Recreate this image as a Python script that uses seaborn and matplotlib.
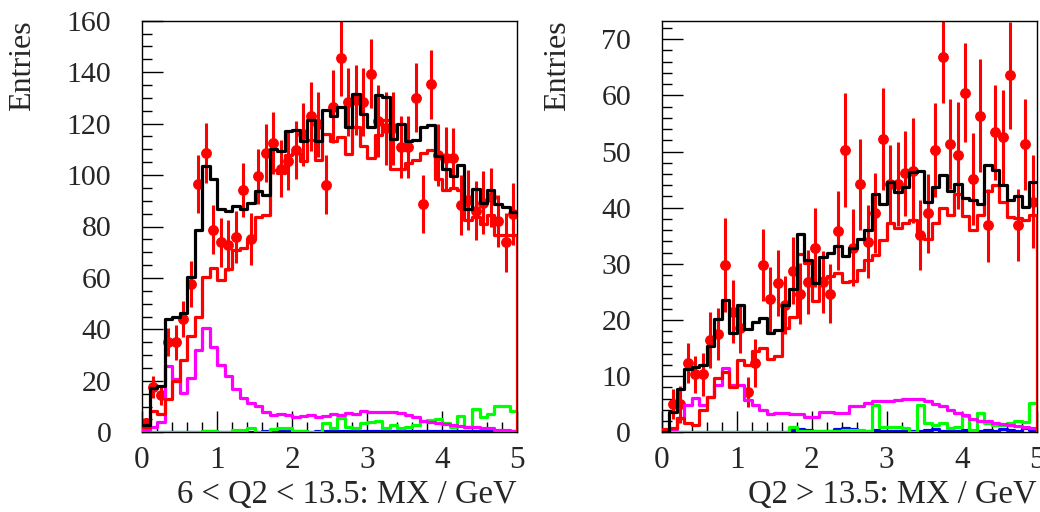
import numpy as np
import pandas as pd
import matplotlib
matplotlib.use("Agg")
import matplotlib.pyplot as plt
from matplotlib.ticker import MultipleLocator
import seaborn as sns

# ---------------- data ----------------
bin_edges = np.linspace(0, 5, 51)

# Panel 1: 6 < Q2 < 13.5
p1_black = [3, 17.3, 18, 43.9, 44.7, 46.2, 60.2, 78.6, 103.5, 98.4,
            86.7, 85.9, 87.9, 86.7, 89.3, 93.8, 92.4, 110.1, 109.2, 117.3,
            117.4, 113.1, 121.5, 113.1, 125.2, 123.1, 126.4, 118.6, 131.6, 123.6,
            118.6, 131.0, 130.3, 113.9, 119.7, 113.1, 113.5, 118.6, 119.5, 107.3,
            102.5, 99.8, 103.9, 86.7, 94.6, 89.3, 94.1, 88.9, 87.6, 85.6]
p1_red = [2, 8.4, 7.0, 12.8, 19.9, 28.1, 37.5, 44.7, 60.4, 63.8,
          59.1, 63.3, 70.8, 71.7, 75.1, 83.7, 84.3, 101.9, 100.8, 107.7,
          108.6, 105.4, 113.5, 105.7, 116.1, 113.1, 114.8, 108.3, 118.7, 111.4,
          106.8, 115.6, 121.5, 102.5, 102.5, 104.5, 105.7, 108.5, 109.6, 98.6,
          94.1, 94.8, 94.1, 82.4, 83.7, 80.9, 84.4, 76.6, 76.6, 76.6]
p1_magenta = [1, 2, 4, 25.7, 20.9, 15.1, 21.2, 32.0, 40.6, 33.2,
              26.1, 21.9, 16.7, 13.4, 11.3, 10.2, 8.0, 6.7, 7.3, 6.7,
              6.1, 6.4, 6.7, 6.0, 6.4, 7.2, 6.7, 7.6, 7.3, 8.3,
              7.7, 8.0, 8.0, 7.7, 7.6, 6.7, 6.1, 4.5, 4.1, 3.8,
              3.2, 2.8, 2.4, 2.2, 1.9, 1.8, 1.5, 0.9, 0.9, 0.6]
p1_green = [0, 0, 0, 0, 0, 0, 0, 0, 0.4, 0.4,
            0.1, 0.1, 0.9, 0.9, 1.5, 0, 0, 1.2, 1.5, 1.5,
            0.5, 0.5, 0.3, 0.3, 3.5, 1.5, 5.4, 2.2, 1.8, 3.5,
            4.1, 4.5, 1.8, 2.8, 1.8, 2.2, 2.8, 4.5, 4.8, 5.0,
            3.5, 2.2, 6.4, 2.2, 8.9, 5.9, 7.2, 10.3, 10.3, 8.1]
p1_blue = [0, 0, 0, 0, 0, 0, 0, 0, 0.4, 0.4,
           0.1, 0.1, 0.1, 0.1, 0.3, 0.3, 0.4, 0.3, 0.5, 0.4,
           0.4, 0.5, 0.3, 0.4, 0.5, 0.4, 0.6, 0.4, 0.5, 0.4,
           0.5, 0.4, 0.6, 0.5, 0.4, 0.5, 0.6, 0.4, 0.5, 0.5,
           0.4, 0.5, 0.6, 0.4, 0.5, 0.4, 0.5, 0.4, 0.3, 0.4]
p1_data = [3.6, 17.7, 14.5, 35.0, 35.0, 44.0, 57.6, 96.4, 108.6, 78.8,
           73.8, 72.7, 76.0, 94.3, 75.1, 99.5, 108.6, 112.6, 102.5, 105.5,
           109.9, 115.8, 122.8, 119.7, 96.3, 126.5, 145.6, 128.4, 129.1, 128.4,
           139.4, 121.0, 118.1, 118.1, 110.9, 110.9, 130.1, 88.7, 135.3, 107.7,
           106.6, 106.6, 88.3, 90.2, 86.1, 89.3, 91.3, 82.1, 73.8, 85.0]
p1_err = [2, 4.2, 4, 5.5, 6.8, 6.9, 9, 11.3, 11.5, 9.4,
          9.4, 10, 10, 10.5, 10.2, 10.7, 11.2, 12, 11, 11.5,
          11.3, 12.4, 13.4, 12.6, 11.6, 14.2, 14.8, 13.3, 13.6, 13.3,
          13.3, 14, 14, 14, 12, 12, 13.4, 11.3, 13.4, 12,
          12, 11.7, 11.6, 11.6, 11.5, 12.3, 11.3, 10, 11.6, 12]

# Panel 2: Q2 > 13.5
p2_black = [0, 3.7, 7.8, 11.3, 11.6, 11.9, 15.3, 20.1, 23.6, 17.7,
            22.7, 18.4, 19.7, 20.4, 17.7, 18.2, 22.7, 25.5, 35.3, 30.6,
            26.6, 31.2, 32.0, 33.1, 31.4, 32.8, 34.5, 36.1, 42.4, 40.6,
            44.5, 42.8, 43.7, 46.3, 46.6, 41.1, 43.6, 45.8, 43.0, 44.3,
            41.7, 41.4, 40.6, 47.6, 46.8, 44.0, 41.4, 42.0, 40.1, 44.6]
p2_red = [0.5, 0.7, 2.5, 1.7, 1.3, 4.0, 6.2, 9.6, 10.7, 8.1,
          12.9, 12.0, 14.4, 15.1, 13.1, 13.6, 18.5, 20.6, 31.8, 30.1,
          23.4, 27.4, 27.8, 28.3, 26.8, 27.0, 28.9, 30.7, 31.6, 34.2,
          37.3, 36.3, 37.3, 37.8, 35.1, 34.4, 37.3, 39.9, 38.7, 42.4,
          38.5, 36.0, 38.7, 43.0, 44.0, 41.1, 38.4, 38.1, 37.8, 38.7]
p2_magenta = [0, 0.5, 2.5, 4.9, 6.1, 4.9, 6.2, 8.4, 11.4, 8.4,
              8.4, 5.8, 4.9, 3.9, 3.2, 3.4, 3.4, 3.2, 3.3, 2.8,
              2.8, 3.6, 3.7, 3.5, 3.5, 4.6, 4.7, 5.2, 5.5, 5.5,
              5.6, 5.8, 5.9, 5.9, 5.9, 5.5, 5.0, 4.6, 4.0, 3.4,
              3.1, 2.3, 2.1, 2.1, 1.7, 1.5, 1.3, 1.1, 0.9, 0.7]
p2_green = [0, 0, 0, 0, 0, 0, 0, 0, 0, 0,
            0, 0, 0, 0, 0, 0, 0, 0.9, 0.3, 0.3,
            0.3, 0.2, 0.2, 0.3, 0.4, 0.4, 0.4, 0.2, 4.9, 0.9,
            1.0, 0.9, 0.7, 0.1, 4.9, 1.6, 1.3, 1.7, 0.8, 0.9,
            2.9, 0.4, 3.5, 1.6, 1.3, 1.3, 1.6, 2.1, 1.9, 5.2]
p2_blue = [0, 0, 0, 0, 0, 0, 0, 0, 0, 0,
           0, 0, 0, 0, 0, 0, 0, 0.4, 0.5, 0.4,
           0.2, 0.2, 0.3, 0.5, 0.7, 0.5, 0.3, 0.3, 0.4, 0.3,
           0.2, 0.3, 0.2, 0.2, 0.3, 0.4, 0.5, 0.3, 0.2, 0.3,
           0.4, 0.3, 0.2, 0.4, 0.3, 0.5, 0.4, 0.3, 0.8, 0.4]
p2_data = [np.nan, 5.0, 5.0, 12.3, 10.3, 10.3, 16.4, 17.5, 29.8, 21.5,
           18.5, 7.2, 12.4, 29.8, 23.7, 26.6, 22.7, 28.8, 24.7, 26.8,
           32.9, 26.8, 24.7, 35.9, 50.3, 32.9, 44.2, 33.9, 39.0, 52.3,
           44.2, 44.2, 46.1, 46.6, 35.1, 39.0, 50.3, 66.8, 51.3, 49.3,
           60.5, 45.1, 56.4, 36.9, 53.4, 52.5, 63.6, 36.9, 51.3, 41.1]
p2_err = [0, 2.7, 3.3, 3.6, 3.3, 3.9, 5.0, 4.6, 8.3, 5.6,
          4.3, 2.7, 4.3, 6.4, 5.8, 5.8, 5.2, 5.9, 5.5, 5.7,
          7.0, 5.5, 5.2, 7.0, 10.1, 6.8, 8.1, 6.5, 7.1, 9.1,
          6.9, 7.5, 7.5, 9.3, 6.2, 7.0, 8.4, 8.2, 8.0, 9.5,
          8.8, 8.2, 10.1, 6.5, 8.4, 8.4, 9.5, 6.4, 8.1, 8.3]

xlabels = ["6 < Q2 < 13.5: MX / GeV", "Q2 > 13.5: MX / GeV"]
ylabel = "Entries"
ymaxes = [160, 73.3]
ymajor = [20, 10]
yminor = [5, 2]

# ---------------- style ----------------
sns.set_theme(style="ticks")
plt.rcParams["font.family"] = ["Liberation Serif", "DejaVu Serif"]
plt.rcParams["font.size"] = 22

fig = plt.figure(figsize=(10.4, 5.12), dpi=100)
W, H = 1040, 512
axes_px = [(142, 20.7, 375, 411.6), (661.7, 20.7, 375, 411.6)]

panels = [
    (p1_black, p1_red, p1_magenta, p1_green, p1_blue, p1_data, p1_err),
    (p2_black, p2_red, p2_magenta, p2_green, p2_blue, p2_data, p2_err),
]
centers = 0.5 * (bin_edges[:-1] + bin_edges[1:])

for k, (black, red, mag, green, blue, data, err) in enumerate(panels):
    x0, y0, w, h = axes_px[k]
    ax = fig.add_axes([x0 / W, (H - y0 - h) / H, w / W, h / H])
    ax.set_facecolor("white")

    # data points
    ax.errorbar(centers, data, yerr=err, fmt="o", color="#ff0000", ms=6.8,
                elinewidth=2.2, capsize=0, zorder=2)

    lw = 2.3
    for vals, col, z in [(blue, "#0000ff", 3), (green, "#00ff00", 4),
                         (mag, "#ff00ff", 5), (red, "#ff0000", 6),
                         (black, "#000000", 7)]:
        df = pd.DataFrame({"MX": centers, "w": np.asarray(vals, dtype=float)})
        sns.histplot(data=df, x="MX", weights="w", bins=list(bin_edges),
                     element="step", fill=False, color=col, linewidth=lw,
                     ax=ax, zorder=z)
    # closing edge of the red histogram at the upper range limit
    ax.vlines(bin_edges[-1], 0, red[-1], color="#ff0000", lw=lw, zorder=6)

    ax.set_xlim(bin_edges[0], bin_edges[-1])
    ax.set_ylim(0, ymaxes[k])
    ax.xaxis.set_major_locator(MultipleLocator(1))
    ax.xaxis.set_minor_locator(MultipleLocator(0.2))
    ax.yaxis.set_major_locator(MultipleLocator(ymajor[k]))
    ax.yaxis.set_minor_locator(MultipleLocator(yminor[k]))
    ax.tick_params(which="both", direction="in", top=False, right=False,
                   color="black", width=1)
    ax.tick_params(which="major", length=15)
    ax.tick_params(which="minor", length=7.5)
    ax.tick_params(axis="y", which="major", pad=22, labelsize=21.5)
    ax.tick_params(axis="x", which="major", pad=10, labelsize=22.5)
    for sp in ax.spines.values():
        sp.set_visible(True)
        sp.set_color("black")
        sp.set_linewidth(1)
    ax.set_xlabel(xlabels[k], loc="right", fontsize=23.5, labelpad=3)
    ax.set_ylabel(ylabel, loc="top", fontsize=23, labelpad=21)
    ax.grid(False)

fig.savefig("out.png", dpi=100, facecolor="white")
